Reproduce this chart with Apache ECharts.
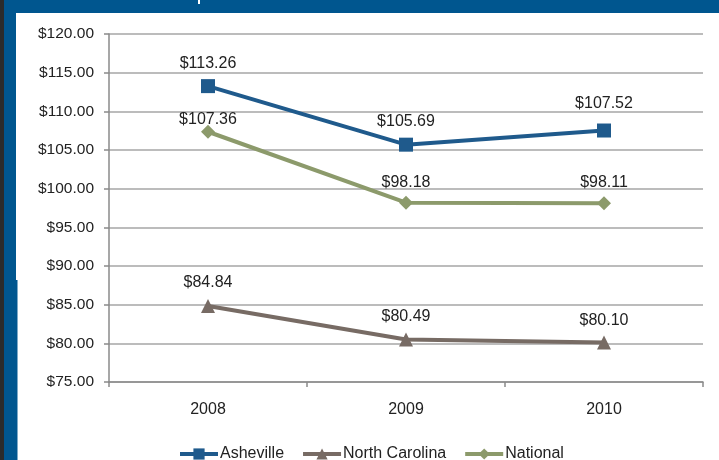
<!DOCTYPE html>
<html><head><meta charset="utf-8">
<script src="https://cdn.jsdelivr.net/npm/echarts@6/dist/echarts.min.js"></script>
<style>html,body{margin:0;padding:0;background:#fff}#c{width:719px;height:460px}</style>
</head><body><div id="c"></div>
<script>
const categories = ['2008', '2009', '2010'];
const seriesNames = ['Asheville', 'North Carolina', 'National'];
const asheville = [113.26, 105.69, 107.52];
const northCarolina = [84.84, 80.49, 80.10];
const national = [107.36, 98.18, 98.11];
const yTicks = [75, 80, 85, 90, 95, 100, 105, 110, 115, 120];

const FONT = 'Liberation Sans, Arial, sans-serif';
const chart = echarts.init(document.getElementById('c'));
function mk(name, data, color, symbol, size, dists) {
  return {
    name, type: 'line', data: data.map((v, i) => ({ value: v, label: { distance: dists[i] } })),
    symbol, symbolSize: size, showAllSymbol: true,
    lineStyle: { color, width: 4 }, itemStyle: { color },
    label: { show: true, position: 'top', color: '#222', fontFamily: FONT, fontSize: 16,
      formatter: p => '$' + p.value.toFixed(2) },
    emphasis: { disabled: true }, z: 3
  };
}
chart.setOption({
  animation: false,
  graphic: [
    { type: 'rect', shape: { x: 0, y: 0, width: 719, height: 13 }, style: { fill: '#00568f' } },
    { type: 'rect', shape: { x: 0, y: 0, width: 16, height: 460 }, style: { fill: '#00568f' } },
    { type: 'rect', shape: { x: 16, y: 280, width: 1.5, height: 180 }, style: { fill: '#00568f' } },
    { type: 'rect', shape: { x: 0, y: 0, width: 4, height: 460 }, style: { fill: '#2b2b2b' } },
    { type: 'rect', shape: { x: 198, y: 0, width: 2, height: 4 }, style: { fill: '#ffffff' } }
  ],
  grid: { left: 109, right: 16, top: 34, bottom: 78, containLabel: false },
  legend: {
    top: 441, left: 173, itemWidth: 38, itemHeight: 14, itemGap: 17,
    lineStyle: { width: 4 },
    textStyle: { fontFamily: FONT, fontSize: 16, color: '#222', padding: [0, 0, 0, -3] },
    data: seriesNames
  },
  xAxis: {
    type: 'category', data: categories, boundaryGap: true,
    axisLine: { lineStyle: { color: '#8a8a8a', width: 1.5 } },
    axisTick: { show: true, length: 5, lineStyle: { color: '#8a8a8a', width: 1.5 } },
    axisLabel: { fontFamily: FONT, fontSize: 16, color: '#222', margin: 20 }
  },
  yAxis: {
    type: 'value', min: 75, max: 120, interval: 5,
    axisLine: { show: true, lineStyle: { color: '#8a8a8a', width: 1.5 } },
    axisTick: { show: true, length: 5, lineStyle: { color: '#8a8a8a', width: 1.5 } },
    splitLine: { lineStyle: { color: '#a6a6a6', width: 1.5 } },
    axisLabel: { fontFamily: FONT, fontSize: 15.5, color: '#222', margin: 15,
      formatter: v => yTicks.includes(v) ? '$' + v.toFixed(2) : '' }
  },
  series: [
    mk('Asheville', asheville, '#1f5a8c', 'rect', 14, [8, 8, 12]),
    mk('North Carolina', northCarolina, '#776b64', 'triangle', 14, [8, 8, 7]),
    mk('National', national, '#8c9a6b', 'diamond', 14, [-3, 5, 6])
  ]
});
</script></body></html>
